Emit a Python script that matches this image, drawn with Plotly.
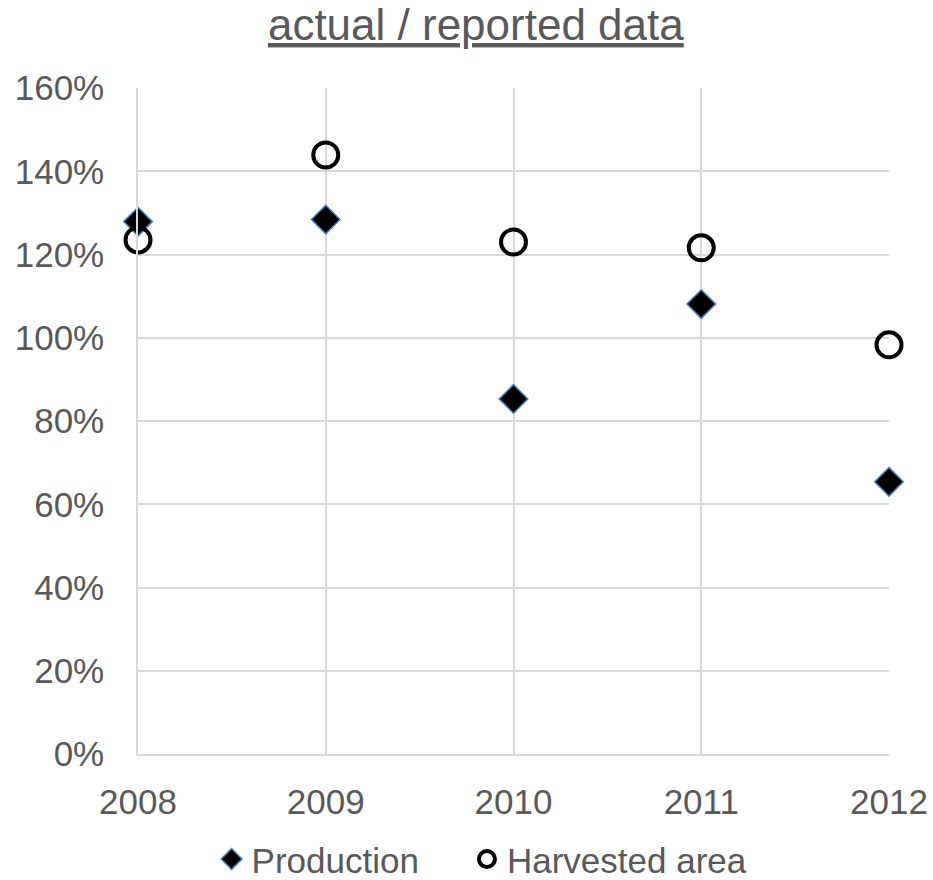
import plotly.graph_objects as go

years = [2008, 2009, 2010, 2011, 2012]
production = [127.9, 128.4, 85.3, 108.1, 65.4]
harvested_area = [123.5, 143.9, 123.0, 121.6, 98.3]
y_ticks = [0, 20, 40, 60, 80, 100, 120, 140, 160]

font_family = "Liberation Sans, Arial, sans-serif"
text_grey = "#595959"
grid_grey = "#d9d9d9"

fig = go.Figure()
fig.add_trace(go.Scatter(
    x=years, y=production, mode="markers", name="Production",
    marker=dict(symbol="diamond", size=22, color="black",
                line=dict(color="#4a7ebb", width=1.5)),
    cliponaxis=False, legend="legend",
))
fig.add_trace(go.Scatter(
    x=years, y=harvested_area, mode="markers", name="Harvested area",
    marker=dict(symbol="circle-open", size=25, color="black",
                line=dict(color="black", width=4)),
    cliponaxis=False, legend="legend2",
))

# Each series gets its own legend box so the two entries can be spaced freely
legend_style = dict(orientation="h", xanchor="left", y=-0.158, yanchor="middle",
                    font=dict(size=35, color=text_grey), itemwidth=30,
                    bgcolor="rgba(0,0,0,0)")

fig.update_layout(
    width=933, height=880,
    margin=dict(l=138, r=44, t=88, b=126, autoexpand=False),
    paper_bgcolor="white", plot_bgcolor="white",
    font=dict(family=font_family, color=text_grey, size=35),
    title=dict(text="<u>actual / reported data</u>", x=0.51, xanchor="center",
               y=0.972, yanchor="middle",
               font=dict(size=44, color=text_grey, family=font_family)),
    showlegend=True,
    legend=dict(x=0.098, **legend_style),
    legend2=dict(x=0.438, **legend_style),
)
fig.update_xaxes(
    range=[2008, 2012], tickvals=years, ticktext=[str(y) for y in years],
    showgrid=True, gridcolor=grid_grey, gridwidth=1.5,
    showline=True, linecolor=grid_grey, linewidth=1.5,
    zeroline=False, ticks="outside", ticklen=16, tickcolor="rgba(0,0,0,0)",
    tickfont=dict(size=35, color=text_grey), automargin=False,
)
fig.update_yaxes(
    range=[0, 160], tickvals=y_ticks, ticktext=[f"{v}%" for v in y_ticks],
    showgrid=True, gridcolor=grid_grey, gridwidth=1.5,
    showline=True, linecolor=grid_grey, linewidth=1.5,
    zeroline=False, ticks="outside", ticklen=25, tickcolor="rgba(0,0,0,0)",
    tickfont=dict(size=35, color=text_grey), automargin=False,
)

fig.write_html("out.html")
